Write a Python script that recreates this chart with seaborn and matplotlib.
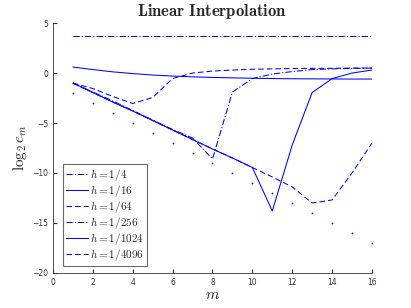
import numpy as np
import pandas as pd
import matplotlib
matplotlib.use("Agg")
import matplotlib.pyplot as plt
import seaborn as sns

m = list(range(1, 17))
labels = ["$h=1/4$", "$h=1/16$", "$h=1/64$", "$h=1/256$", "$h=1/1024$", "$h=1/4096$"]
e_h4 = [3.75] * 16
e_h16 = [0.6, 0.35, 0.12, -0.05, -0.2, -0.3, -0.38, -0.44, -0.48, -0.52, -0.55, -0.57, -0.58, -0.59, -0.6, -0.6]
e_h64 = [-1.0, -1.55, -2.35, -3.05, -2.45, -0.55, 0.0, 0.2, 0.3, 0.38, 0.42, 0.45, 0.47, 0.48, 0.5, 0.5]
e_h256 = [-1.0, -1.9, -2.8, -3.75, -4.7, -5.65, -6.5, -8.6, -1.9, -0.55, -0.1, 0.15, 0.35, 0.42, 0.46, 0.5]
e_h1024 = [-1.0, -1.95, -2.9, -3.8, -4.75, -5.7, -6.65, -7.6, -8.5, -9.45, -13.8, -7.2, -1.95, -0.55, 0.0, 0.3]
e_h4096 = [-1.0, -1.95, -2.9, -3.8, -4.75, -5.7, -6.65, -7.6, -8.5, -9.45, -10.4, -11.4, -13.0, -12.7, -10.0, -7.0]
ref = [-2, -3, -4, -5, -6, -7, -8, -9, -10, -11, -12, -13, -14, -15, -16, -17]

series = [e_h4, e_h16, e_h64, e_h256, e_h1024, e_h4096]
dashdot = (0, (4.5, 1.5, 0.8, 1.5))
dashed = (0, (4.0, 2.2))
styles = [dashdot, '-', dashed, dashdot, '-', dashed]

sns.set_style("white")
plt.rcParams['mathtext.fontset'] = 'cm'
plt.rcParams['font.family'] = ['DejaVu Sans']
plt.rcParams['lines.scale_dashes'] = False

fig = plt.figure(figsize=(4.11, 3.08), dpi=100)
ax = fig.add_axes([0.129, 0.114, 0.776, 0.811])

for y, ls, lab in zip(series, styles, labels):
    df = pd.DataFrame({"m": m, "e": y})
    sns.lineplot(data=df, x="m", y="e", ax=ax, color=(0, 0, 1), linestyle=ls, lw=0.75, label=lab)

dfr = pd.DataFrame({"m": m, "e": ref})
sns.lineplot(data=dfr, x="m", y="e", ax=ax, color=(0, 0, 1), linestyle='none', marker='.', markersize=2.5, mec='none')

ax.set_xlim(0, 16)
ax.set_ylim(-20, 5)
ax.set_xticks(range(0, 17, 2))
ax.set_yticks(range(-20, 6, 5))
ax.tick_params(direction='in', length=3, labelsize=5.5, colors='#333333', left=True, bottom=True)
for s in ['top', 'right']:
    ax.spines[s].set_visible(False)
for s in ['left', 'bottom']:
    ax.spines[s].set_color('#333333')
    ax.spines[s].set_linewidth(0.6)

ax.set_xlabel("$m$", fontsize=11, labelpad=0)
ax.set_ylabel(r"$\log_2 e_m$", fontsize=11, labelpad=2)
ax.set_title(r"$\mathbf{Linear\ Interpolation}$", fontsize=12, pad=5)

leg = ax.legend(loc='lower left', bbox_to_anchor=(0.025, 0.02), fontsize=8, frameon=True,
                fancybox=False, handlelength=2.0, handletextpad=0.15, borderpad=0.25,
                labelspacing=0.0, borderaxespad=0.2)
leg.get_frame().set_edgecolor('#444444')
leg.get_frame().set_linewidth(0.8)

fig.savefig("out.png", dpi=100)
